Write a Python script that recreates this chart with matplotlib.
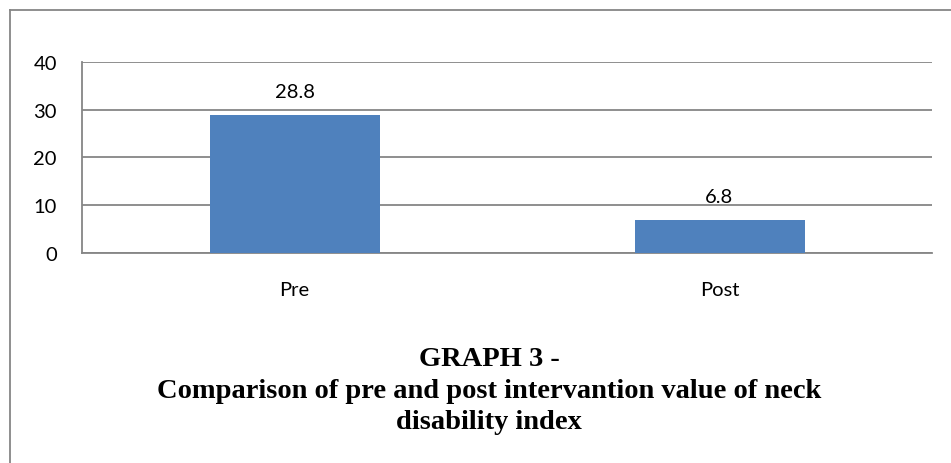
import matplotlib
matplotlib.use("Agg")
import matplotlib.pyplot as plt
from matplotlib.lines import Line2D

categories = ["Pre", "Post"]
values     = [28.8, 6.8]
value_text = ["28.8", "6.8"]
yticks     = [0, 10, 20, 30, 40]
title_lines = ["GRAPH 3 -",
               "Comparison of pre and post intervantion value of neck",
               "disability index"]

W, H = 951, 464
fig = plt.figure(figsize=(W / 100, H / 100), dpi=100)
ax = fig.add_axes([82 / W, 1 - 254 / H, 850 / W, (254 - 62.7) / H])

grid_c = "#868686"
ax.bar(range(len(categories)), values, width=0.4, color="#4F81BD", zorder=3)
ax.set_xlim(-0.5, len(categories) - 0.5)
ax.set_ylim(0, 40)
ax.set_yticks(yticks)
ax.set_xticks(range(len(categories)))
ax.set_xticklabels(categories)
ax.yaxis.grid(True, color=grid_c, linewidth=1.3)
ax.set_axisbelow(True)
for s in ["top", "right"]:
    ax.spines[s].set_visible(False)
for s in ["left", "bottom"]:
    ax.spines[s].set_color(grid_c)
    ax.spines[s].set_linewidth(1.3)
ax.tick_params(length=0, labelsize=14.5)
for lab in ax.get_xticklabels() + ax.get_yticklabels():
    lab.set_fontfamily("Lato")
ax.tick_params(axis="x", pad=20)
ax.tick_params(axis="y", pad=18)

for i, (v, t) in enumerate(zip(values, value_text)):
    ax.annotate(t, (i, v), xytext=(0, 11), textcoords="offset points",
                ha="center", va="bottom", fontsize=14.5, family="Lato")

# outer frame (only left and top visible in the crop)
fig.add_artist(Line2D([10 / W, 10 / W], [0, 1 - 11 / H], transform=fig.transFigure,
                      color=grid_c, linewidth=1.3))
fig.add_artist(Line2D([10 / W, 1], [1 - 11 / H, 1 - 11 / H], transform=fig.transFigure,
                      color=grid_c, linewidth=1.3))

for k, line in enumerate(title_lines):
    fig.text(489 / W, 1 - (366 + 31.5 * k) / H, line, ha="center", va="baseline",
             fontsize=20.5, fontweight="bold", family="Liberation Serif")

fig.savefig("out.png", dpi=100)
